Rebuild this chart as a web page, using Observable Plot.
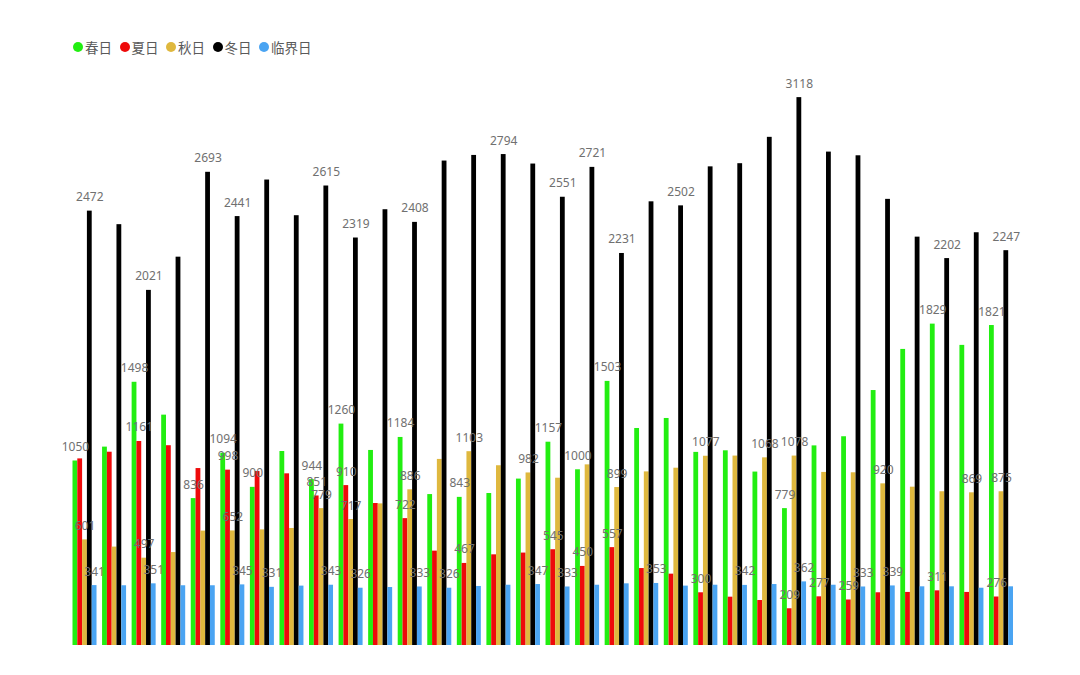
<!DOCTYPE html>
<html>
<head>
<meta charset="utf-8">
<script src="https://cdn.jsdelivr.net/npm/d3@7"></script>
<script src="https://cdn.jsdelivr.net/npm/@observablehq/plot@0.6"></script>
<style>
  html, body { margin: 0; padding: 0; background: #fff; }
  #wrap { position: relative; width: 1080px; height: 675px; }
  #legend { position: absolute; left: 73px; top: 37px; display: flex; align-items: center;
            font-family: "Noto Sans CJK SC", "Noto Sans", sans-serif; font-size: 13.5px; color: #5a5a5a; }
  .item { display: flex; align-items: center; margin-right: 7.5px; }
  .sw { width: 10px; height: 10px; border-radius: 50%; margin-right: 2px; }
</style>
</head>
<body>
<div id="wrap"><div id="legend"></div></div>
<script>
const series = ["春日", "夏日", "秋日", "冬日", "临界日"];
const colors = ["#22ee11", "#ee0a0a", "#dfb83e", "#000000", "#4aa4f2"];
const groups = d3.range(1, 33);

const spring   = [1050, 1129, 1498, 1311, 836, 1094, 900, 1104, 944, 1260, 1110, 1184, 859, 843, 865, 947, 1157, 1000, 1503, 1235, 1292, 1099, 1108, 987, 779, 1136, 1188, 1451, 1685, 1829, 1708, 1821];
const summer   = [1062, 1100, 1161, 1137, 1007, 998, 990, 977, 851, 910, 808, 722, 537, 467, 516, 526, 545, 450, 557, 438, 406, 300, 275, 256, 209, 277, 259, 300, 302, 311, 302, 276];
const autumn   = [601, 560, 497, 529, 651, 652, 658, 666, 779, 717, 806, 886, 1059, 1103, 1023, 982, 952, 1028, 899, 988, 1009, 1077, 1078, 1068, 1078, 985, 983, 920, 901, 875, 869, 875];
const winter   = [2472, 2395, 2021, 2210, 2693, 2441, 2649, 2446, 2615, 2319, 2480, 2408, 2757, 2789, 2794, 2740, 2551, 2721, 2231, 2525, 2502, 2724, 2742, 2892, 3118, 2808, 2787, 2539, 2324, 2202, 2349, 2247];
const critical = [341, 340, 351, 340, 340, 345, 331, 338, 343, 326, 330, 333, 326, 336, 343, 347, 333, 343, 351, 353, 338, 343, 342, 347, 362, 343, 333, 339, 334, 334, 326, 334];

// groups whose value label is visible (others hidden as overlapping)
const springLabels   = [1, 3, 5, 6, 7, 9, 10, 12, 14, 17, 18, 19, 25, 30, 32];
const summerLabels   = [3, 6, 9, 10, 12, 14, 17, 18, 19, 22, 25, 26, 27, 30, 32];
const autumnLabels   = [1, 3, 6, 9, 10, 12, 14, 16, 19, 22, 24, 25, 28, 31, 32];
const winterLabels   = [1, 3, 5, 6, 9, 10, 12, 15, 17, 18, 19, 21, 25, 30, 32];
const criticalLabels = [1, 3, 6, 7, 9, 10, 12, 13, 16, 17, 20, 23, 25, 27, 28];

const values = [spring, summer, autumn, winter, critical];
const labels = [springLabels, summerLabels, autumnLabels, winterLabels, criticalLabels];

const rows = [];
series.forEach((s, si) => {
  values[si].forEach((v, i) => {
    rows.push({group: groups[i], series: s, value: v, label: labels[si].includes(groups[i])});
  });
});

const chart = Plot.plot({
  width: 1080,
  height: 675,
  marginTop: 30,
  marginBottom: 30,
  marginLeft: 72.5,
  marginRight: 67,
  style: {fontFamily: "'Noto Sans', sans-serif", background: "#fff"},
  fx: {domain: groups, padding: 0.188, round: false, axis: null, label: null},
  x: {domain: series, padding: 0, round: false, axis: null},
  y: {domain: [0, 3500], axis: null},
  color: {domain: series, range: colors},
  marks: [
    Plot.barY(rows, {fx: "group", x: "series", y: "value", fill: "series", insetLeft: 0, insetRight: 0}),
    Plot.text(rows.filter(d => d.label), {
      fx: "group", x: "series", y: "value", text: d => String(d.value),
      lineAnchor: "bottom", dy: -10, fill: "#707070", fontSize: 12
    })
  ]
});
document.getElementById("wrap").prepend(chart);

const legend = document.getElementById("legend");
series.forEach((s, i) => {
  const item = document.createElement("div");
  item.className = "item";
  const sw = document.createElement("span");
  sw.className = "sw";
  sw.style.background = colors[i];
  const t = document.createElement("span");
  t.textContent = s;
  item.append(sw, t);
  legend.append(item);
});
</script>
</body>
</html>
